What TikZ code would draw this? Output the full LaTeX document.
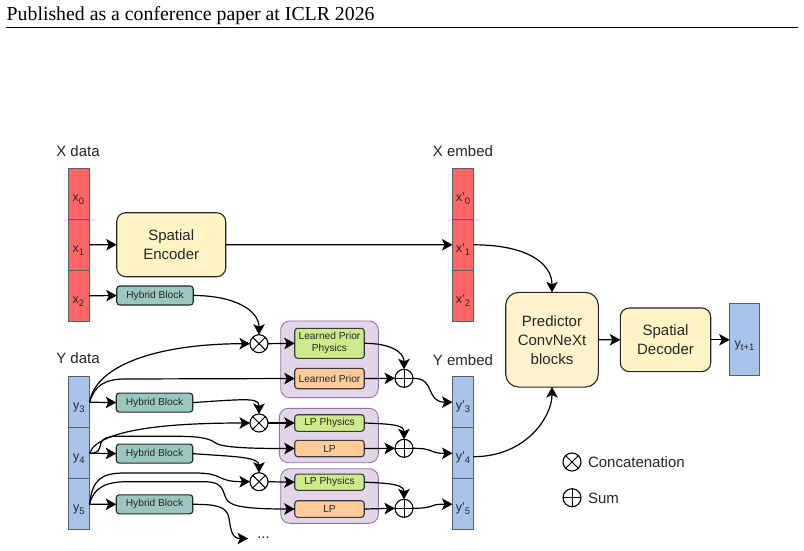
\documentclass[tikz,border=0pt]{standalone}
\usepackage{fontspec}
\setmainfont{Liberation Sans}
\newfontfamily\headfont{Liberation Serif}
\usetikzlibrary{arrows.meta}
\definecolor{cred}{HTML}{FF6666}
\definecolor{cblue}{HTML}{A9C4EB}
\definecolor{cyel}{HTML}{FFF2CC}
\definecolor{cyelb}{HTML}{FFF4C3}
\definecolor{cgreen}{HTML}{CDEB8B}
\definecolor{corange}{HTML}{FFCC99}
\definecolor{cpurple}{HTML}{E1D5E7}
\definecolor{cpurpled}{HTML}{9673A6}
\definecolor{cteal}{HTML}{9AC7BF}
\definecolor{cstroke}{HTML}{36393D}
\definecolor{cellline}{HTML}{5A6068}
\newcommand{\lowtxt}[1]{\raisebox{-3pt}{\fontsize{9.5}{10}\selectfont #1}}
\tikzset{
  box/.style={draw=cstroke,line width=1.1pt,inner sep=0pt,outer sep=0pt,align=center,text=black!85},
  cellr/.style={box,draw=cellline,line width=1pt,fill=cred,minimum width=21pt,minimum height=51pt,text height=15pt,text depth=0pt,font=\fontsize{12.5}{12.5}\selectfont},
  cellb/.style={box,draw=cellline,line width=1pt,fill=cblue,minimum width=21pt,minimum height=51pt,text height=15.5pt,text depth=0pt,font=\fontsize{12.5}{12.5}\selectfont},
  bigbox/.style={box,draw=black!85,fill=cyelb,rounded corners=9pt,font=\fontsize{15}{19}\selectfont},
  hybrid/.style={box,draw=black!85,fill=cteal,rounded corners=3pt,minimum width=76.5pt,minimum height=19pt,font=\fontsize{10.2}{12}\selectfont},
  pbox/.style={draw=cpurpled,line width=.9pt,fill=cpurple,rounded corners=9pt,inner sep=0pt,outer sep=0pt},
  gbox/.style={box,fill=cgreen,rounded corners=3pt,minimum width=69.5pt,font=\fontsize{10.2}{12}\selectfont},
  obox/.style={box,fill=corange,rounded corners=3pt,minimum width=69.5pt,font=\fontsize{10.2}{12}\selectfont},
  lab/.style={inner sep=0pt,outer sep=0pt,font=\fontsize{15}{18}\selectfont,text=black!85},
  sym/.style={circle,draw=black,fill=white,line width=1.1pt,minimum size=18pt,inner sep=0pt,outer sep=0pt},
  conn/.style={draw=black,line width=1.2pt,-{Stealth[length=10.5pt,width=11.5pt,inset=2.5pt]}},
  plain/.style={draw=black,line width=1pt}
}
\newcommand{\otimesat}[1]{\draw[plain] (#1.north west)--(#1.south east) (#1.north east)--(#1.south west);}
\newcommand{\oplusat}[1]{\draw[plain] (#1.north)--(#1.south) (#1.west)--(#1.east);}
\begin{document}
\begin{tikzpicture}[x=1pt,y=-1pt]
\useasboundingbox (0,0) rectangle (804,550);
\fill[white] (0,0) rectangle (804,550);
% header
\node[anchor=base west,inner sep=0pt,font=\fontsize{19.8}{22}\selectfont\headfont] (head) at (6.5,20) {Published as a conference paper at ICLR 2026};
\coordinate (ruleL) at (6,27);
\coordinate (ruleR) at (798,27);
\draw[line width=1pt] (ruleL)--(ruleR);
% labels
\node[lab] (lx) at (78,151) {X data};
\node[lab] (ly) at (78,358) {Y data};
\node[lab] (lxe) at (463,151) {X embed};
\node[lab] (lye) at (463,360) {Y embed};
% X data
\node[cellr] (x0) at (78.5,193.8) {x\lowtxt{0}};
\node[cellr] (x1) at (78.5,244.8) {x\lowtxt{1}};
\node[cellr] (x2) at (78.5,295.8) {x\lowtxt{2}};
% Y data
\node[cellb] (y3) at (79,402.2) {y\lowtxt{3}};
\node[cellb] (y4) at (79,453.2) {y\lowtxt{4}};
\node[cellb] (y5) at (79,504.2) {y\lowtxt{5}};
% X embed
\node[cellr] (xe0) at (463,193.8) {x'\lowtxt{0}};
\node[cellr] (xe1) at (463,244.8) {x'\lowtxt{1}};
\node[cellr] (xe2) at (463,295.8) {x'\lowtxt{2}};
% Y embed
\node[cellb] (ye3) at (463,402.2) {y'\lowtxt{3}};
\node[cellb] (ye4) at (463,453.2) {y'\lowtxt{4}};
\node[cellb] (ye5) at (463,504.2) {y'\lowtxt{5}};
% big blocks
\node[bigbox,minimum width=109pt,minimum height=64pt] (enc) at (171.2,244.7) {Spatial\hspace{4pt}\\Encoder};
\node[bigbox,fill=cyel,rounded corners=13pt,minimum width=92.6pt,minimum height=94.7pt] (pred) at (552,339.7) {Predictor\\ConvNeXt\\blocks};
\node[bigbox,minimum width=90.4pt,minimum height=63.7pt] (dec) at (665.5,339.8) {Spatial\hspace{5pt}\\Decoder};
\node[cellb,minimum width=29.6pt,minimum height=71.7pt] (yt) at (744.5,339.8) {y\lowtxt{t+1}};
% hybrid blocks
\node[hybrid] (h0) at (155,295.5) {Hybrid Block};
\node[hybrid] (h1) at (154.5,402.6) {Hybrid Block};
\node[hybrid] (h2) at (154.5,453.6) {Hybrid Block};
\node[hybrid] (h3) at (154.5,504.3) {Hybrid Block};
% purple groups
\node[pbox,minimum width=97.6pt,minimum height=76.7pt] (g1) at (329.5,359.3) {};
\node[pbox,minimum width=99pt,minimum height=54.4pt] (g2) at (328.8,435.5) {};
\node[pbox,minimum width=97.6pt,minimum height=54.6pt] (g3) at (329.5,496) {};
% inner boxes
\node[gbox,minimum height=30pt] (a1) at (329.5,343.3) {Learned Prior\\Physics};
\node[obox,minimum height=20.4pt] (b1) at (329.5,378.5) {Learned Prior};
\node[gbox,minimum height=16.6pt] (a2) at (329.5,423) {LP Physics};
\node[obox,minimum height=16.4pt] (b2) at (329.5,448.5) {LP};
\node[gbox,minimum height=16.3pt] (a3) at (329.5,482.2) {LP Physics};
\node[obox,minimum height=16.6pt] (b3) at (329.5,509) {LP};
% symbols
\node[sym] (t1) at (259,343.7) {}; \otimesat{t1}
\node[sym] (t2) at (259,423) {}; \otimesat{t2}
\node[sym] (t3) at (259,481.7) {}; \otimesat{t3}
\node[sym] (p1) at (404,378.3) {}; \oplusat{p1}
\node[sym] (p2) at (404,448.3) {}; \oplusat{p2}
\node[sym] (p3) at (404,508.3) {}; \oplusat{p3}
% legend
\node[sym] (lt) at (572,462) {}; \otimesat{lt}
\node[sym] (lp) at (572,497.7) {}; \oplusat{lp}
\node[lab,anchor=west] (ltt) at (588,462) {Concatenation};
\node[lab,anchor=west] (lpt) at (588,498) {Sum};
% dots
\coordinate (dotsin) at (248,538.5);
\node[inner sep=0pt,font=\fontsize{15}{15}\selectfont,text=black!85] (dots) at (263.5,538) {...};
% connectors
\draw[conn] (x1.east) -- (enc.west);
\draw[conn] (x2.east) -- (h0.west);
\draw[conn] (enc.east) -- (xe1.west);
\draw[conn] (h0.east) .. controls +(42,0) and +(0,-24) .. (t1.north);
\draw[conn] (t1.east) -- (a1.west);
\draw[conn] (y3.east) .. controls +(7,-40) and +(-85,0) .. (t1.west);
\draw[conn] (y3.east) .. controls +(5,-16) and (104,379) .. (125,379) -- (b1.west);
\draw[conn] (y3.east) -- (h1.west);
\draw[conn] (h1.east) .. controls +(58,-4) and +(0,-16) .. (t2.north);
\draw[conn] (t2.east) -- (a2.west);
\draw[conn] (y4.east) .. controls +(10,-26) and +(-70,0) .. (t2.west);
\draw[conn] (y4.east) .. controls (99,453.5) and (99,450) .. (101,443) .. controls (103,438) and (108,436.5) .. (116,436.3) -- (180,436.3) .. controls (198,436.5) and (208,438) .. (214,442) .. controls (220,447) and (240,448.5) .. (b2.west);
\draw[conn] (y4.east) -- (h2.west);
\draw[conn] (h2.east) .. controls +(40,3) and +(0,-16) .. (t3.north);
\draw[conn] (t3.east) -- (a3.west);
\draw[conn] (y5.east) .. controls +(3,-24) and (100,473) .. (125,473) -- (195,473) .. controls (225,473) and (215,481.7) .. (t3.west);
\draw[conn] (y5.east) .. controls +(4,-16) and (105,481.7) .. (127,481.7) -- (205,481.7) .. controls (228,482) and (221,496) .. (229,502) .. controls (236,508) and (260,509) .. (b3.west);
\draw[conn] (y5.east) -- (h3.west);
\draw[conn] (h3.east) .. controls (215,504.3) and (227,506) .. (229,518) .. controls (231,533) and (233,538.5) .. (dotsin);
\draw[conn] (a1.east) .. controls +(25,0) and +(0,-18) .. (p1.north);
\draw[conn] (b1.east) -- (p1.west);
\draw[conn] (a2.east) .. controls +(30,1) and +(0,-14) .. (p2.north);
\draw[conn] (b2.east) -- (p2.west);
\draw[conn] (a3.east) .. controls +(30,1) and +(0,-14) .. (p3.north);
\draw[conn] (b3.east) -- (p3.west);
\draw[conn] (p1.east) .. controls (436,378) and (425,402) .. (ye3.west);
\draw[conn] (p2.east) .. controls (436,448.3) and (428,453.5) .. (ye4.west);
\draw[conn] (p3.east) .. controls (436,508.3) and (428,504) .. (ye5.west);
\draw[conn] (xe1.east) .. controls +(52,0) and +(0,-30) .. (pred.north);
\draw[conn] ([yshift=-3.5pt]ye4.east) .. controls +(52,0) and +(0,30) .. (pred.south);
\draw[conn] (pred.east) -- (dec.west);
\draw[conn] (dec.east) -- (yt.west);
\end{tikzpicture}
\end{document}
